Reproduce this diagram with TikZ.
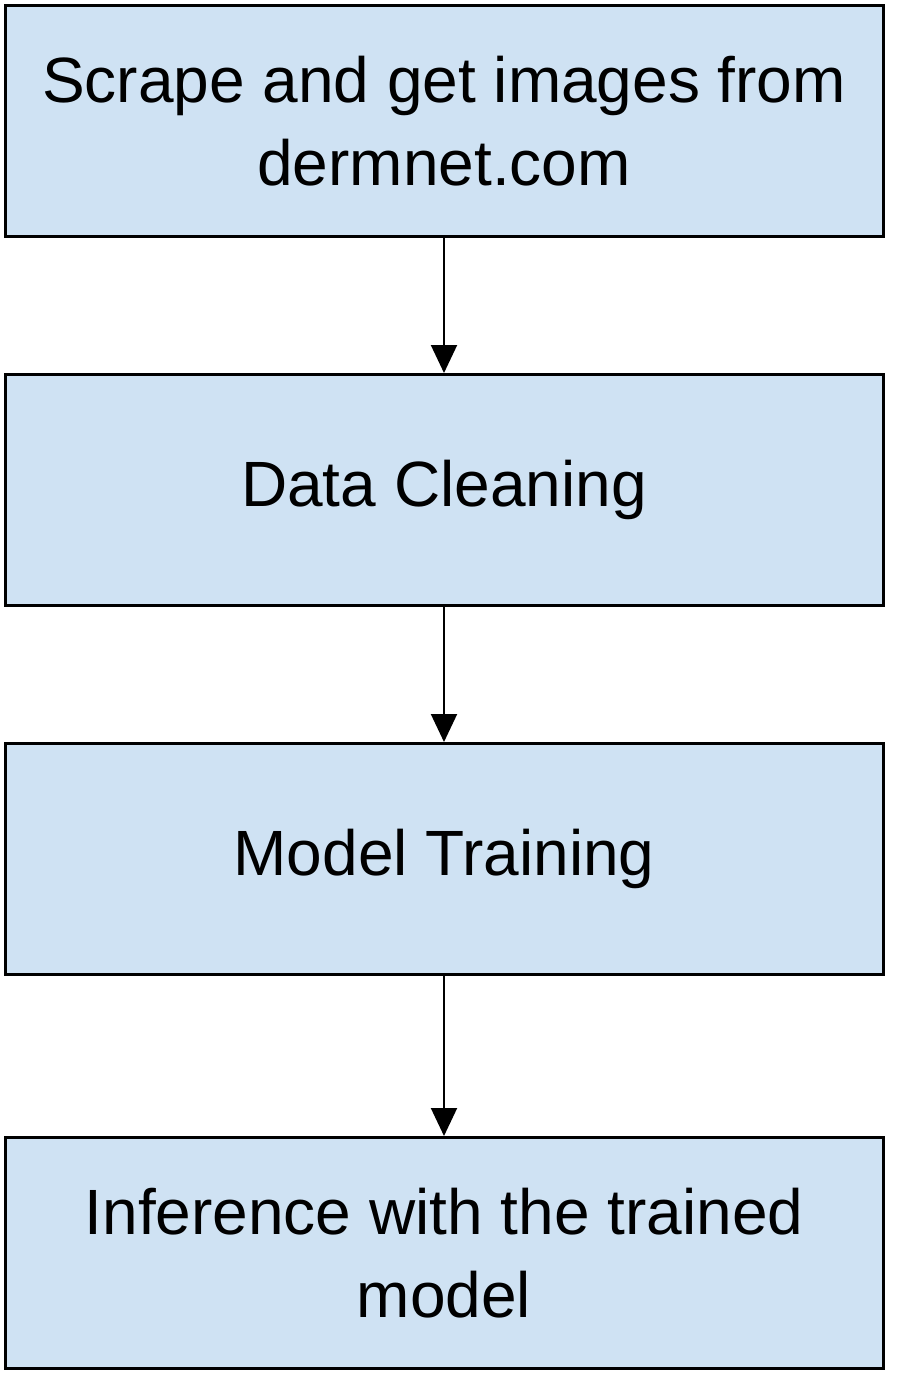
\documentclass[tikz,border=0pt]{standalone}
\usepackage{fontspec}
\setmainfont{Liberation Sans}
\usetikzlibrary{arrows.meta,positioning}
\definecolor{boxblue}{HTML}{CFE2F3}

\begin{document}
\begin{tikzpicture}[->,>={Triangle[width=13pt,length=14pt]},line width=1pt,
                    x=0.5pt,y=-0.5pt,node distance=184.5pt]
  \tikzset{stage/.style={rectangle,draw,line width=1.5pt,fill=boxblue,align=center,
      minimum width=439pt,minimum height=115.5pt,inner sep=0pt,
      font=\fontsize{32pt}{41.5pt}\selectfont}}
  \useasboundingbox (0,0) rectangle (907,1375);

  \node[stage] (SC) at (444,121)  {Scrape and get images from\\dermnet.com};
  \node[stage] (DC) [below of=SC] {Data Cleaning};
  \node[stage] (MT) [below of=DC] {Model Training};
  \node[stage] (IN) [below of=MT,node distance=197pt] {Inference with the trained\\model};

  \draw (SC) -- (DC);
  \draw (DC) -- (MT);
  \draw (MT) -- (IN);

\end{tikzpicture}
\end{document}
